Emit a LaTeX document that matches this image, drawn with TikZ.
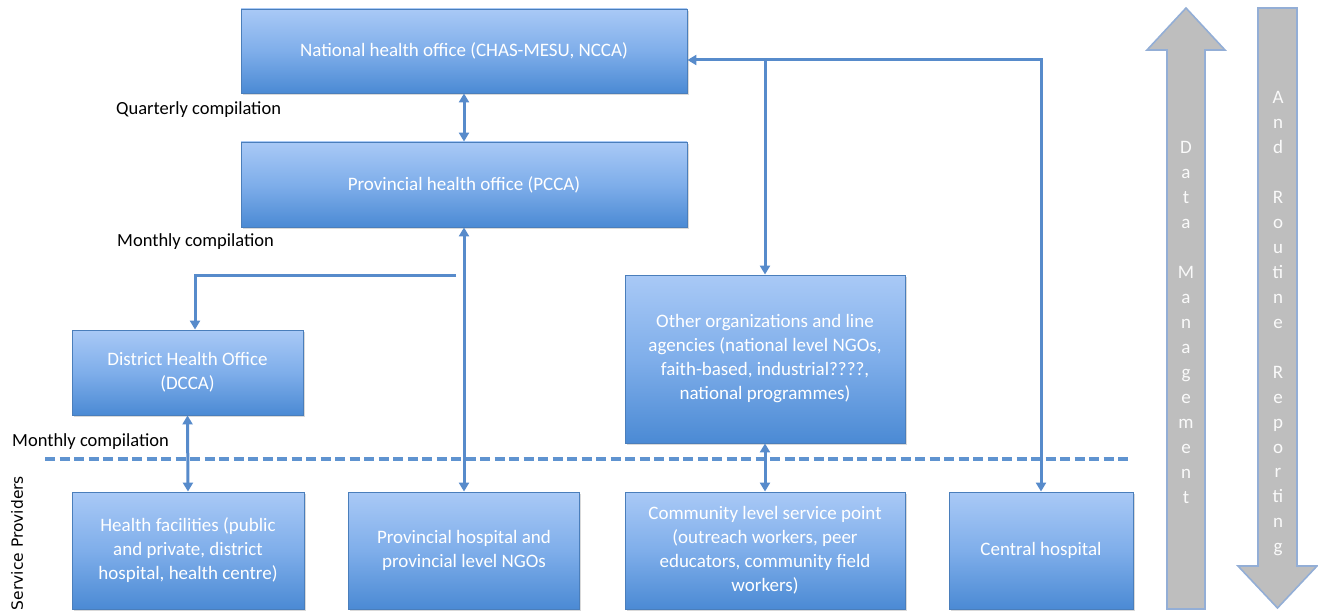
\documentclass[tikz,border=0pt]{standalone}
\usepackage{fontspec}
\setmainfont{Carlito}
\newfontfamily\spfont{DejaVu Sans}
\usetikzlibrary{arrows.meta,shadows}
\definecolor{conn}{HTML}{578BCB}
\definecolor{dashc}{HTML}{5F93D0}
\definecolor{boxtop}{HTML}{A9C9F6}
\definecolor{boxmid}{HTML}{7FAEEA}
\definecolor{boxbot}{HTML}{4B8AD4}
\definecolor{boxborder}{HTML}{4A7EBB}
\definecolor{grayfill}{HTML}{BEBEBE}
\definecolor{grayborder}{HTML}{93AED6}
\definecolor{lettercol}{HTML}{FAFAFA}
\tikzset{
  box/.style={draw=boxborder, line width=0.9pt, top color=boxtop, bottom color=boxbot, middle color=boxmid,
    text=white, align=center, inner sep=0pt, font=\fontsize{19}{24}\selectfont,
    drop shadow={shadow xshift=1.5pt, shadow yshift=-2pt, opacity=0.3}},
  tipa/.tip={Triangle[length=9pt,width=10pt]},
  link/.style={draw=conn, line width=3pt},
  lbl/.style={anchor=west, inner sep=0pt, font=\fontsize{18.5}{22}\selectfont, text=black},
  garrow/.style={fill=grayfill, draw=grayborder, line width=1.6pt, line join=miter},
  gl/.style={anchor=base, inner sep=0pt, text=lettercol, font=\fontsize{19}{19}\selectfont},
  dashline/.style={draw=dashc, line width=3.4pt, dash pattern=on 10pt off 4.5pt}
}
\begin{document}
\begin{tikzpicture}[x=1pt,y=-1pt]
\useasboundingbox (0,0) rectangle (1318,615);

% dashed separator
\coordinate (dl) at (45,459);
\coordinate (dr) at (1132,459);
\draw[dashline] (dl) -- (dr);

% boxes
\node[box, minimum width=446pt, minimum height=84pt] (nat) at (464,51) {National health office (CHAS-MESU, NCCA)};
\node[box, minimum width=446pt, minimum height=85pt] (prov) at (464,184.5) {Provincial health office (PCCA)};
\node[box, minimum width=231pt, minimum height=85pt] (dist) at (187.5,372.5) {District Health Office\\(DCCA)};
\node[box, minimum width=280pt, minimum height=168pt] (other) at (765,359) {Other organizations and line\\agencies (national level NGOs,\\faith-based, industrial????,\\national programmes)};
\node[box, minimum width=232pt, minimum height=117pt] (hf) at (188,550.5) {Health facilities (public\\and private, district\\hospital, health centre)};
\node[box, minimum width=231pt, minimum height=117pt] (ph) at (464,550.5) {Provincial hospital and\\provincial level NGOs};
\node[box, minimum width=280pt, minimum height=117pt] (comm) at (765,550.5) {Community level service point\\(outreach workers, peer\\educators, community field\\workers)};
\node[box, minimum width=184pt, minimum height=117pt] (ch) at (1041,550.5) {Central hospital};

% labels
\node[lbl] (q) at (116,110) {Quarterly compilation};
\node[lbl] (m1) at (117,242) {Monthly compilation};
\node[lbl] (m2) at (12,442) {Monthly compilation};
\node[rotate=90, inner sep=0pt, font=\spfont\fontsize{15.5}{16}\selectfont] (sp) at (17,543) {Service Providers};

% connectors
\draw[link, tipa-tipa] (nat.south) -- (prov.north);
\draw[link, tipa-tipa] (prov.south) -- (ph.north);
\coordinate (br) at (456,275);
\draw[link, -tipa] (br) -| (dist.north -| 195,0);
\draw[link, tipa-tipa] (dist.south) -- (hf.north);
\draw[link, tipa-tipa] (other.south) -- (comm.north);
\coordinate (corner) at (1041,60);
\draw[link, tipa-tipa] (nat.east |- corner) -- (corner) -- (ch.north);
\coordinate (bx) at (765,60);
\draw[link, -tipa] (bx) -- (other.north);

% grey side arrows
\draw[garrow] (1167,609) -- (1167,50) -- (1147,50) -- (1186,8) -- (1225,50) -- (1205,50) -- (1205,609) -- cycle;
\draw[garrow] (1258,8) -- (1297,8) -- (1297,566) -- (1317,566) -- (1277.5,608) -- (1238,566) -- (1258,566) -- cycle;

\foreach \ch [count=\i] in {D,a,t,a,{},M,a,n,a,g,e,m,e,n,t}
  \node[gl] (dm\i) at (1186, 154+24.93*\i-24.93) {\ch};
\foreach \ch [count=\i] in {A,n,d,{},R,o,u,ti,n,e,{},R,e,p,o,r,ti,n,g}
  \node[gl] (rr\i) at (1278, 104+24.93*\i-24.93) {\ch};
\end{tikzpicture}
\end{document}
